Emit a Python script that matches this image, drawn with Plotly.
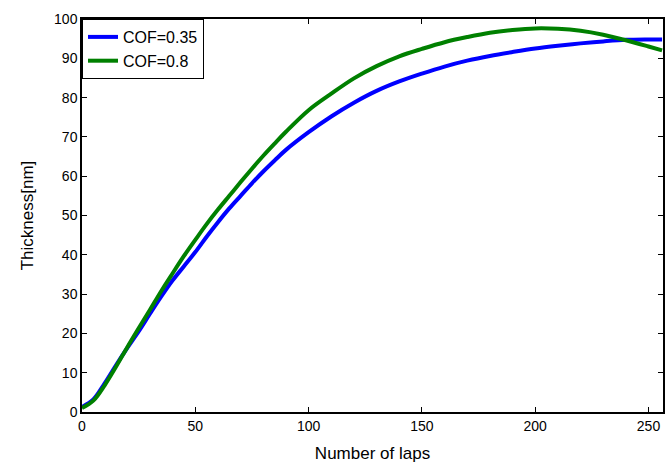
import plotly.graph_objects as go

laps = [0, 5, 10, 15, 20, 25, 30, 35, 40, 45, 50, 55, 60, 65, 70, 75, 80, 85, 90,
        100, 110, 120, 130, 140, 150, 160, 170, 180, 190, 200, 210, 220, 230, 240, 250, 256]

cof_035 = [1.3, 3.2, 7.3, 11.9, 16.3, 20.5, 25.0, 29.4, 33.5, 37.1, 40.7, 44.6, 48.3,
           51.8, 55.0, 58.2, 61.2, 64.0, 66.7, 71.2, 75.2, 78.7, 81.7, 84.1, 86.1,
           87.9, 89.4, 90.6, 91.6, 92.5, 93.2, 93.8, 94.3, 94.7, 94.8, 94.8]

cof_08 = [1.0, 2.9, 6.8, 11.5, 16.5, 21.3, 26.0, 30.8, 35.3, 39.7, 43.8, 47.8, 51.5,
          55.0, 58.5, 61.9, 65.2, 68.3, 71.3, 76.8, 81.0, 84.9, 88.0, 90.5, 92.4,
          94.1, 95.4, 96.5, 97.2, 97.6, 97.5, 97.0, 96.0, 94.6, 93.0, 92.0]

x_ticks = [0, 50, 100, 150, 200, 250]
y_ticks = [0, 10, 20, 30, 40, 50, 60, 70, 80, 90, 100]

FONT = "Liberation Sans, Arial, sans-serif"

fig = go.Figure()
fig.add_trace(go.Scatter(x=laps, y=cof_035, mode="lines", name="COF=0.35",
                         line=dict(color="#0000FF", width=4, shape="spline", smoothing=1.0)))
fig.add_trace(go.Scatter(x=laps, y=cof_08, mode="lines", name="COF=0.8",
                         line=dict(color="#008000", width=4, shape="spline", smoothing=1.0)))

axis_common = dict(showline=True, linecolor="black", linewidth=1.5, mirror="ticks",
                   ticks="inside", ticklen=5, tickwidth=1, tickcolor="black",
                   showgrid=False, zeroline=False, automargin=False,
                   tickfont=dict(family=FONT, size=14, color="black"))

fig.update_xaxes(range=[0, 256.4], tickvals=x_ticks,
                 title=dict(text="Number of laps", font=dict(family=FONT, size=17, color="black"),
                            standoff=15),
                 **axis_common)
fig.update_yaxes(range=[0, 100], tickvals=y_ticks,
                 title=dict(text="Thickness[nm]", font=dict(family=FONT, size=17, color="black"),
                            standoff=16),
                 **axis_common)

fig.update_layout(
    width=672, height=463,
    margin=dict(l=82, r=9, t=19, b=51),
    paper_bgcolor="white", plot_bgcolor="white",
    font=dict(family=FONT, color="black"),
    legend=dict(x=0, y=1, xanchor="left", yanchor="top",
                bgcolor="white", bordercolor="black", borderwidth=1,
                font=dict(family=FONT, size=16, color="black"),
                itemwidth=30, tracegroupgap=0),
    showlegend=True,
)

fig.write_html("out.html", config={"displayModeBar": False},
               post_script="document.body.style.margin='0';document.body.style.overflow='hidden';")
